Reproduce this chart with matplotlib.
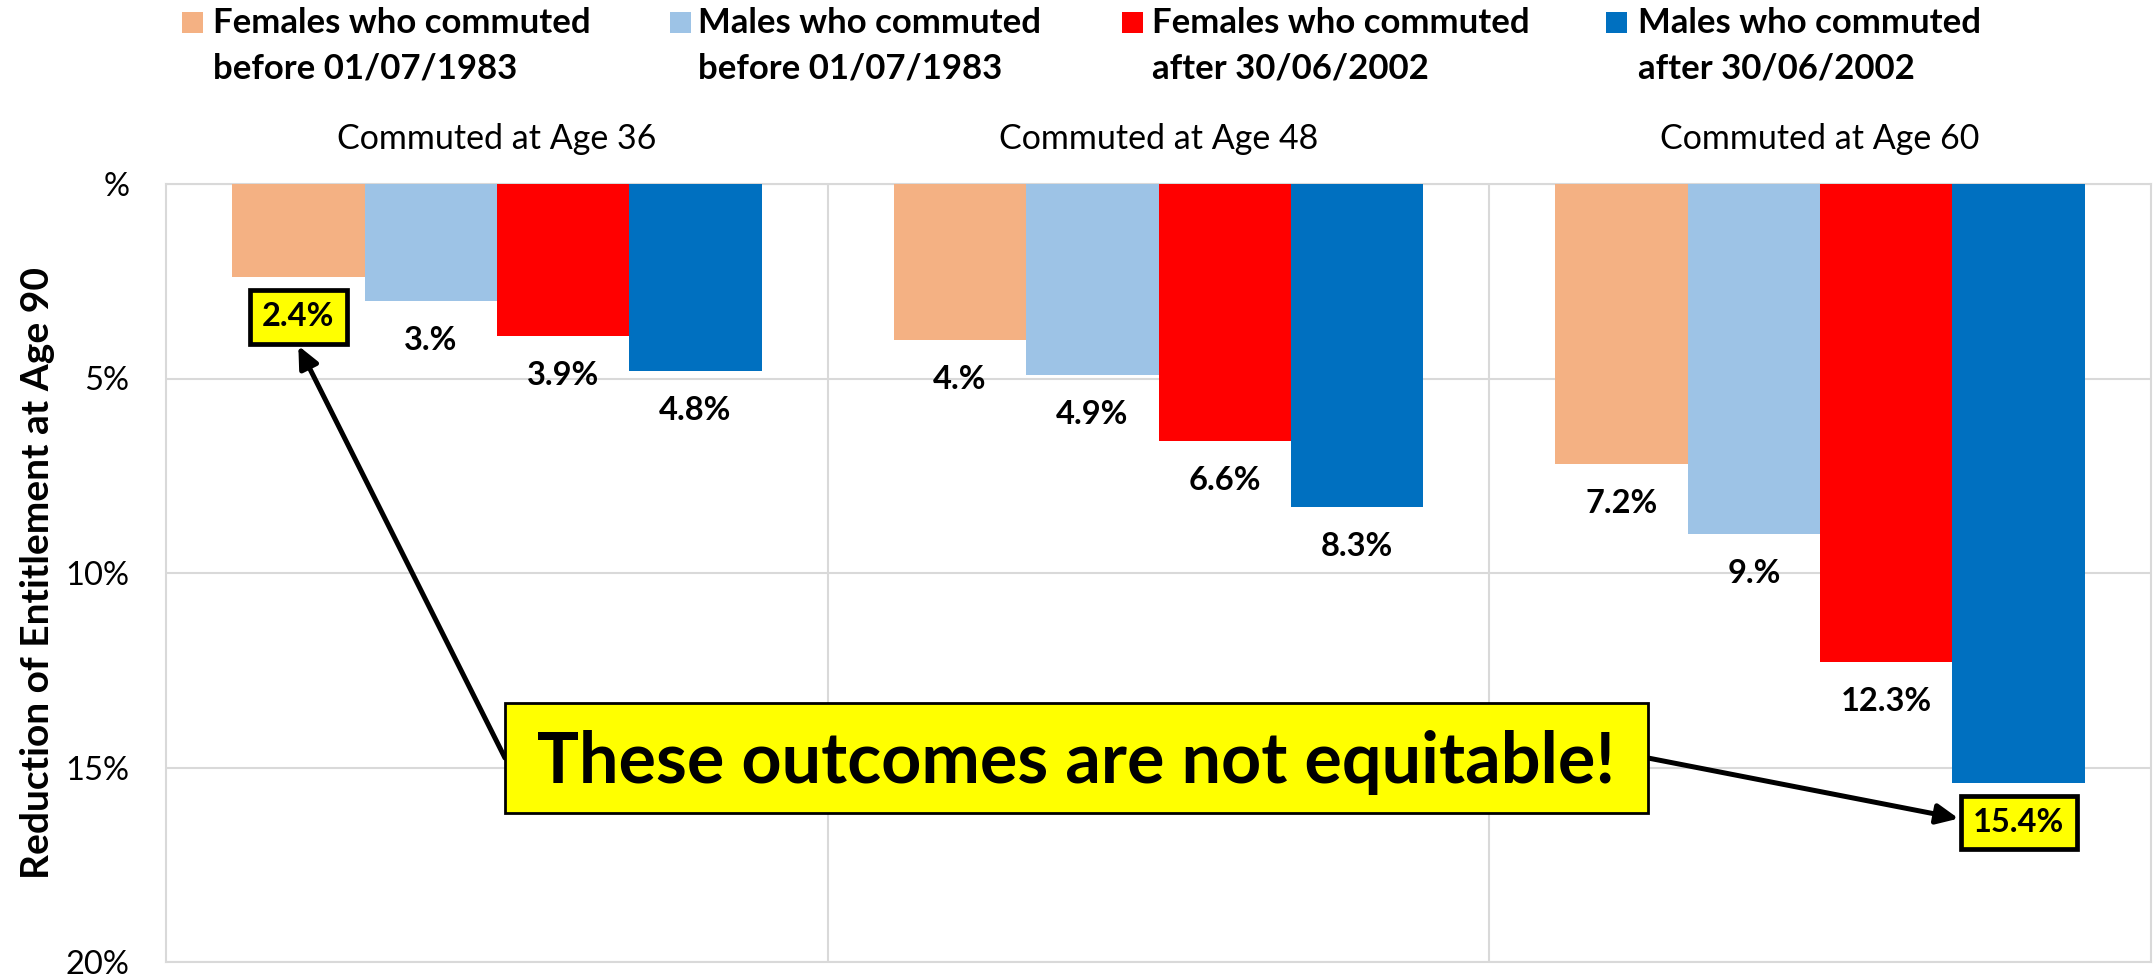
import matplotlib
matplotlib.use('Agg')
import matplotlib.pyplot as plt
from matplotlib.patches import Rectangle
import numpy as np

# ---- data -------------------------------------------------------------
categories = ['Commuted at Age 36', 'Commuted at Age 48', 'Commuted at Age 60']
series_names = [
    'Females who commuted\nbefore 01/07/1983',
    'Males who commuted\nbefore 01/07/1983',
    'Females who commuted\nafter 30/06/2002',
    'Males who commuted\nafter 30/06/2002',
]
females_before_1983 = [2.4, 4.0, 7.2]
males_before_1983 = [3.0, 4.9, 9.0]
females_after_2002 = [3.9, 6.6, 12.3]
males_after_2002 = [4.8, 8.3, 15.4]
y_ticks = [0, 5, 10, 15, 20]
y_tick_labels = ['%', '5%', '10%', '15%', '20%']
y_label = 'Reduction of Entitlement at Age 90'
callout_text = 'These outcomes are not equitable!'

series = [females_before_1983, males_before_1983, females_after_2002, males_after_2002]
colors = ['#F4B183', '#9DC3E6', '#FF0000', '#0070C0']
highlighted = [(0, 0), (3, 2)]  # (series, category) whose labels get a yellow box

# ---- figure -----------------------------------------------------------
W, H, DPI = 2153, 977, 100
FONT = 'Lato'
GRID = '#D9D9D9'
YELLOW = '#FFFF00'

fig = plt.figure(figsize=(W / DPI, H / DPI), dpi=DPI)
ax = fig.add_axes([166 / W, 1 - 962 / H, (2151 - 166) / W, (962 - 184) / H])

x = np.arange(len(categories))
bar_w = 0.2
offsets = (np.arange(len(series)) - (len(series) - 1) / 2) * bar_w

labels = {}
for i, (vals, col) in enumerate(zip(series, colors)):
    bars = ax.bar(x + offsets[i], vals, width=bar_w, color=col, zorder=3)
    for j, (b, v) in enumerate(zip(bars, vals)):
        txt = f'{v:.1f}'.rstrip('0') + '%'
        kw = {}
        if (i, j) in highlighted:
            kw['bbox'] = dict(boxstyle='square,pad=0.38', fc=YELLOW, ec='black', lw=3.4)
        labels[(i, j)] = ax.annotate(
            txt, xy=(b.get_x() + b.get_width() / 2, v),
            xytext=(0, -49), textcoords='offset pixels',
            ha='center', va='baseline', fontsize=23.5, fontweight='bold',
            family=FONT, zorder=6, **kw)

ax.set_xlim(-0.5, len(categories) - 0.5)
ax.set_ylim(y_ticks[-1], y_ticks[0])

# gridlines and frame
ax.set_yticks(y_ticks)
ax.set_yticklabels(y_tick_labels, fontsize=23.5, family=FONT)
ax.set_xticks(x)
ax.set_xticklabels(categories, fontsize=24.5, family=FONT)
ax.set_xticks(x[:-1] + 0.5, minor=True)
ax.xaxis.tick_top()
ax.tick_params(axis='both', which='both', length=0)
ax.tick_params(axis='y', pad=26.5)
ax.tick_params(axis='x', pad=21)
ax.grid(axis='y', color=GRID, lw=1.5, zorder=0)
ax.grid(axis='x', which='minor', color=GRID, lw=1.5, zorder=0)
ax.grid(axis='x', which='major', visible=False)
for s in ax.spines.values():
    s.set_color(GRID)
    s.set_linewidth(1.5)
    s.set_zorder(1)

# y axis title
fig.text(37.5 / W, 1 - 573 / H, y_label, rotation=90, ha='center', va='center',
         fontsize=28, fontweight='bold', family=FONT)

# legend across the top
sq_x = [182, 670, 1122, 1606]
txt_x = [213, 698, 1152, 1638]
for name, col, sx, tx in zip(series_names, colors, sq_x, txt_x):
    fig.add_artist(Rectangle((sx / W, 1 - 33 / H), 21 / W, 21 / H,
                             transform=fig.transFigure, fc=col, ec='none'))
    for k, line in enumerate(name.split('\n')):
        fig.text(tx / W, 1 - (33 + 46 * k) / H, line, ha='left', va='baseline',
                 fontsize=25, fontweight='bold', family=FONT)

# callout box
bx0, bx1 = (505 - 166) / 1985, (1648 - 166) / 1985
by0, by1 = (962 - 813) / 778, (962 - 703) / 778
ax.add_patch(Rectangle((bx0, by0), bx1 - bx0, by1 - by0, transform=ax.transAxes,
                       fc=YELLOW, ec='black', lw=2, zorder=7))
ax.text((bx0 + bx1) / 2, (962 - 783) / 778, callout_text, transform=ax.transAxes,
        ha='center', va='baseline', fontsize=50.5, fontweight='bold', family=FONT,
        zorder=8)

# arrows from the callout to the highlighted labels
fig.canvas.draw()
ext_a = labels[highlighted[0]].get_bbox_patch().get_window_extent()
ext_b = labels[highlighted[1]].get_bbox_patch().get_window_extent()
ymid = (by0 + by1) / 2
tail_a = ax.transAxes.transform((bx0, ymid))
tail_b = ax.transAxes.transform((bx1, ymid))
head_a = ((ext_a.x0 + ext_a.x1) / 2, ext_a.y0 - 2)
head_b = (ext_b.x0 - 2, (ext_b.y0 + ext_b.y1) / 2 + 4)
for head, tail in [(head_a, tail_a), (head_b, tail_b)]:
    ax.annotate('', xy=head, xycoords='figure pixels',
                xytext=tail, textcoords='figure pixels',
                arrowprops=dict(arrowstyle='-|>,head_length=0.65,head_width=0.3',
                                mutation_scale=20, lw=3.6, color='black',
                                shrinkA=0, shrinkB=0),
                zorder=6)

fig.savefig('out.png', dpi=DPI, facecolor='white')
